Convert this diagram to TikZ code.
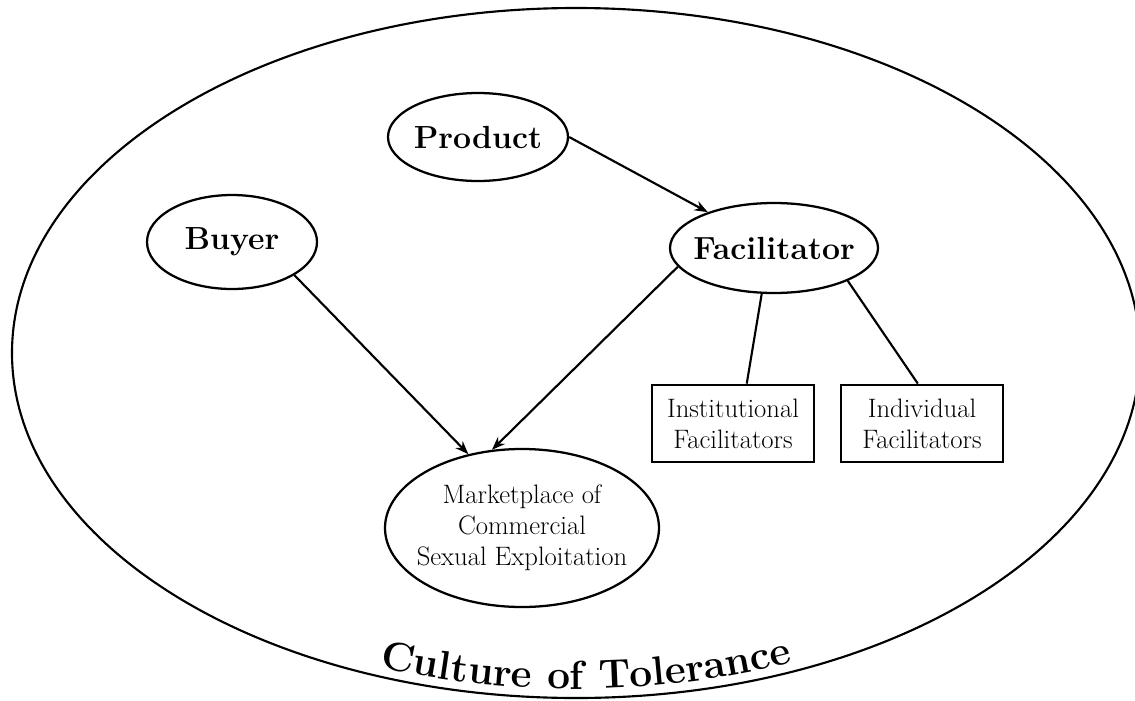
\documentclass[tikz,border=0pt]{standalone}
\usepackage{fontspec}
\usetikzlibrary{shapes.geometric,arrows.meta,decorations.text}
\begin{document}
\begin{tikzpicture}[x=0.75pt,y=-0.75pt,
  bigoval/.style={draw, ellipse, line width=1.6pt, inner sep=0pt},
  oval/.style={draw, ellipse, line width=1.7pt, inner sep=0pt,
    font=\fontsize{24}{28}\selectfont\bfseries},
  smalloval/.style={draw, ellipse, line width=1.7pt, inner sep=0pt,
    font=\fontsize{20}{24}\selectfont},
  facbox/.style={draw, rectangle, line width=2.1pt, inner sep=0pt, align=center,
    minimum width=121.5pt, minimum height=57.75pt,
    font=\fontsize{20}{23.3}\selectfont},
  conn/.style={line width=1.6pt},
  arr/.style={conn, -{Stealth[length=10pt,width=7.5pt]}}
]
\useasboundingbox (0,0) rectangle (1135,700);

\node[bigoval, minimum width=846pt, minimum height=517.5pt] (culture) at (576,353) {};

\node[oval, minimum width=135pt, minimum height=66pt] (prod) at (478,137) {\makebox[0pt]{Product}};
\node[oval, minimum width=127.5pt, minimum height=70.5pt] (buyer) at (232,242) {\makebox[0pt]{Buyer}};
\node[oval, minimum width=156pt, minimum height=67.5pt] (fac) at (774,248) {\makebox[0pt]{Facilitator}};
\node[smalloval, minimum width=205.5pt, minimum height=118.5pt] (mkt) at (522,528)
  {\makebox[0pt]{\begin{tabular}{@{}c@{}}Marketplace of\\[-1pt]Commercial\\[-1pt]Sexual Exploitation\end{tabular}}};

\node[facbox] (inst) at (733,423.5) {Institutional\\Facilitators};
\node[facbox] (ind) at (922,423.5) {Individual\\Facilitators};

\draw[arr] (prod.east) -- (fac);
\draw[arr] (buyer.-28) -- (mkt.126);
\draw[arr] (fac.-169) -- (mkt.111);
\draw[conn] (fac.-105) -- (inst.71);
\draw[conn] (fac.-24) -- (ind.96);

\path[decorate, decoration={text along path, text align=center,
  text={|\fontsize{30.5}{30.5}\selectfont\bfseries|Culture of Tolerance}}]
  (culture.center) ++(116.85:554 and 336)
  arc[start angle=116.85, end angle=60.85, x radius=554, y radius=336];
\end{tikzpicture}
\end{document}
